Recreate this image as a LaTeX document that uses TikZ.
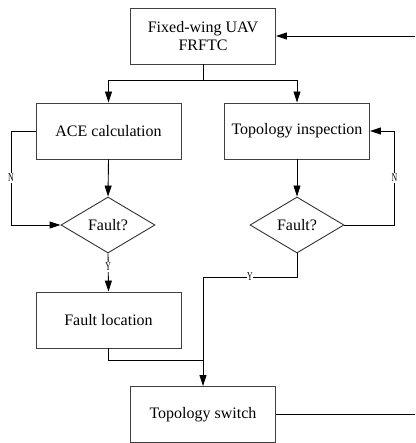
\documentclass[tikz,border=0pt]{standalone}
\usepackage{fontspec}
\setmainfont{Liberation Serif}
\usetikzlibrary{arrows.meta,shapes.geometric}
\begin{document}
\begin{tikzpicture}[x=1pt,y=-1pt,
  box/.style={draw=black!75,line width=0.9pt,minimum width=145pt,minimum height=56pt,inner sep=0pt,font=\fontsize{16}{18}\selectfont,align=center},
  dia/.style={draw=black!80,line width=0.9pt,diamond,aspect=1.68,minimum width=94pt,minimum height=56pt,inner sep=0pt,font=\fontsize{16}{18}\selectfont},
  conn/.style={draw=black,line width=0.9pt},
  arr/.style={conn,-{Triangle[length=11pt,width=7pt]}},
  lbl/.style={fill=white,inner sep=1pt,font=\fontsize{12}{12}\selectfont,xscale=0.65}]
\useasboundingbox (0,0) rectangle (415,443);
\node[box] (top) at (203,36) {Fixed-wing UAV\\FRFTC};
\node[box] (ace) at (108.5,131) {ACE calculation};
\node[box] (topo) at (297,131) {Topology inspection};
\node[dia] (d1) at (108,225) {Fault?};
\node[dia] (d2) at (297,225) {Fault?};
\node[box] (loc) at (108.5,320) {Fault location};
\node[box] (sw) at (203,414.5) {Topology switch};
\coordinate (rtop) at (415,36);
\coordinate (rsw) at (415,414.5);
\coordinate (split) at (203,80);
\coordinate (join) at (203,360);
% top split
\draw[conn] (top.south) -- (split);
\draw[arr] (split) -| (ace.north);
\draw[arr] (split) -| (topo.north);
% feedback
\draw[arr] (rtop) -- (top.east);
\draw[conn] (sw.east) -- (rsw);
% ACE branch
\draw[arr] (ace.south) -- (d1.north);
\draw[arr] (ace.west) -- ++(-24.5,0) |- node[lbl,pos=0.25] {N} (d1.west);
\draw[arr] (d1.south) -- node[lbl,pos=0.35] {Y} (loc.north);
\draw[conn] (loc.south) |- (join);
% topology branch
\draw[arr] (topo.south) -- (d2.north);
\draw[arr] (d2.east) -- ++(50,0) |- node[lbl,pos=0.25] {N} (topo.east);
\draw[conn] (d2.south) |- node[lbl,pos=0.75] {Y} (203,277) coordinate (yc);
\draw[arr] (yc) -- (sw.north);
\end{tikzpicture}
\end{document}
